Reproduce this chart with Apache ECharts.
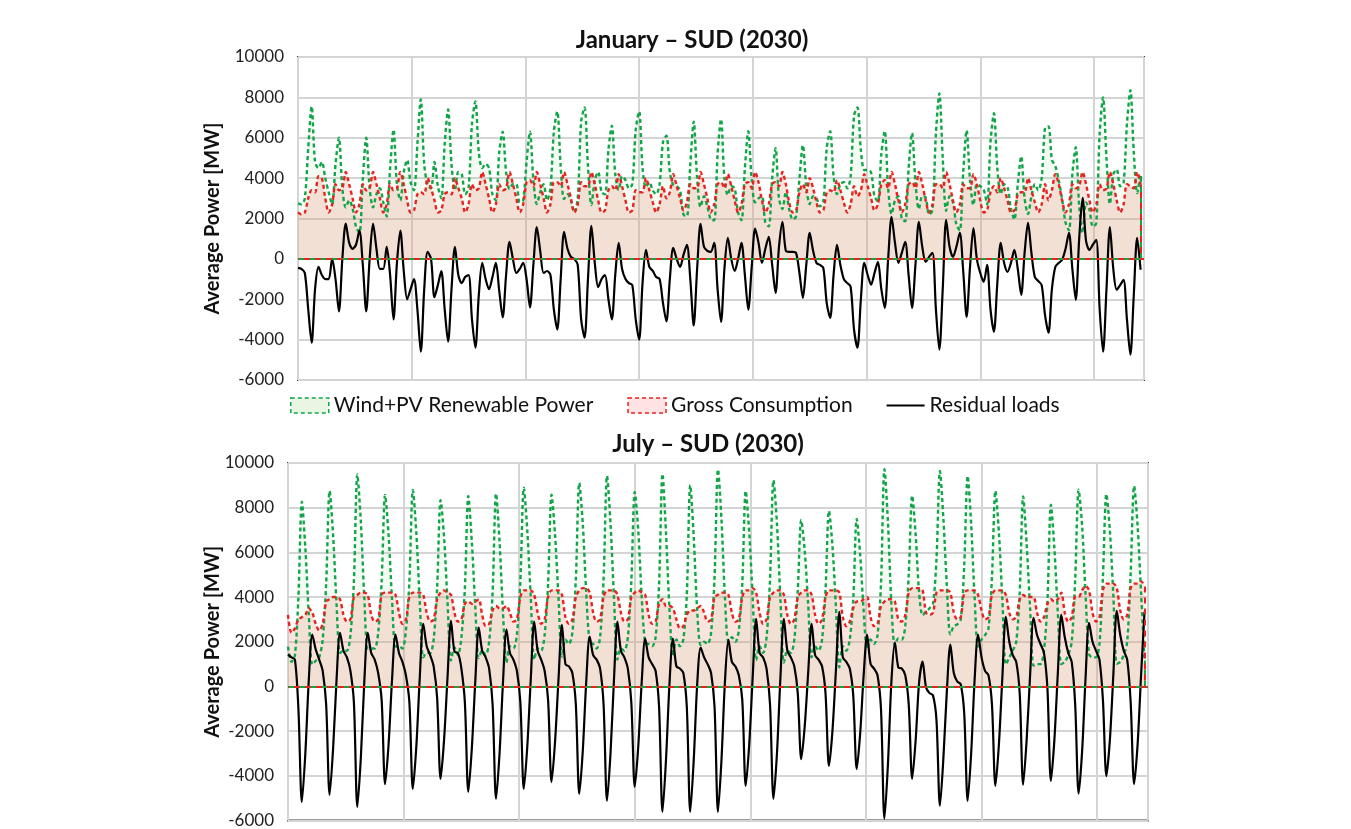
<!DOCTYPE html>
<html lang="en">
	<head>
		<meta charset="utf-8" />
		<title>SUD 2030 residual loads</title>
		<style>
			html, body { margin: 0; padding: 0; background: #fff; }
		</style>
	</head>
	<body>
		<div id="main" style="width: 1351px; height: 829px;"></div>

		<script src="https://cdn.jsdelivr.net/npm/echarts@6/dist/echarts.min.js"></script>
		<script type="text/javascript">
			// one value every 3 hours: 00, 03, 06, 09, 12, 15, 18, 21 (one line per day)
			const stepHours = 3;
			const yTicks = [-6000, -4000, -2000, 0, 2000, 4000, 6000, 8000, 10000];
			const legendNames = ['Wind+PV Renewable Power', 'Gross Consumption', 'Residual loads'];
			const titles = ['January – SUD (2030)', 'July – SUD (2030)'];

			const janRenewable = [
				2750, 2700, 3000, 5500, 7550, 4800, 4500, 4800,
				4000, 3300, 2700, 4700, 6000, 3500, 2550, 2900,
				2500, 1600, 1300, 4000, 6000, 3500, 2550, 3200,
				3500, 2800, 2100, 4500, 6400, 3700, 2900, 4300,
				4900, 3800, 3400, 5700, 7900, 4700, 3650, 3500,
				4800, 3600, 3000, 5700, 7400, 4700, 3400, 4300,
				4200, 3200, 3500, 6700, 7800, 5300, 4500, 4700,
				4500, 3200, 2900, 5300, 6300, 4300, 3460, 3700,
				3700, 2800, 2900, 4800, 6300, 3900, 2720, 3300,
				3700, 2900, 3500, 6300, 7300, 4600, 2960, 3200,
				2900, 2300, 3000, 6800, 7500, 4600, 2670, 3900,
				4300, 3300, 3200, 5400, 6600, 4200, 3410, 4100,
				3900, 3500, 3700, 6400, 7300, 4500, 3550, 3800,
				3400, 3200, 3700, 5800, 6100, 4300, 3660, 3600,
				3400, 2200, 2110, 4700, 6800, 4000, 2570, 3100,
				2600, 1950, 1910, 5200, 6920, 4000, 3160, 3600,
				3500, 2300, 1910, 4500, 6320, 3900, 2800, 3000,
				3100, 1800, 1610, 4000, 5480, 3000, 2470, 3300,
				2450, 1950, 2100, 4000, 5630, 3600, 2710, 3100,
				3000, 2600, 2850, 5500, 6320, 4100, 3210, 3700,
				3800, 3500, 4080, 7100, 7500, 5400, 4400, 4400,
				4280, 3100, 2850, 5200, 6330, 3500, 2220, 2900,
				3100, 2000, 1860, 4500, 6230, 3800, 2470, 3100,
				3050, 2200, 2400, 6200, 8200, 5000, 2370, 3100,
				2800, 1700, 1410, 4300, 6370, 3900, 2670, 3700,
				3600, 3440, 2700, 5800, 7210, 4500, 3210, 3700,
				3540, 2500, 1950, 3700, 5080, 3000, 2220, 3100,
				3700, 3400, 4000, 6500, 6560, 4900, 4600, 3900,
				2950, 1800, 1410, 4200, 5530, 2600, 1280, 2800,
				2450, 1600, 1760, 6200, 8000, 5000, 2720, 4200,
				4430, 3600, 3740, 6700, 8350, 5300, 3260, 4240
			];

			const janConsumption = [
				2300, 2200, 2300, 3000, 3400, 3300, 4100, 4000,
				3000, 2300, 2700, 3700, 3400, 3500, 4300, 3700,
				3000, 2300, 2700, 3700, 3400, 3500, 4300, 3700,
				3000, 2300, 2700, 3700, 3400, 3500, 4300, 3700,
				2900, 2300, 2400, 3200, 3300, 3200, 4000, 3500,
				2900, 2300, 2400, 3200, 3300, 3200, 4000, 3500,
				3000, 2300, 2700, 3700, 3400, 3500, 4300, 3700,
				3000, 2300, 2700, 3700, 3400, 3500, 4300, 3700,
				3000, 2300, 2700, 3800, 3900, 3600, 4300, 3700,
				3000, 2300, 2700, 3800, 3800, 3600, 4300, 3700,
				3000, 2300, 2700, 3800, 3600, 3600, 4300, 3700,
				2900, 2300, 2400, 3400, 3600, 3400, 4200, 3600,
				2900, 2300, 2400, 3400, 3300, 3300, 4000, 3400,
				2800, 2300, 2700, 3600, 3000, 3300, 4200, 3600,
				3000, 2400, 2800, 3700, 3500, 3500, 4300, 3700,
				3000, 2300, 2700, 3700, 3800, 3500, 4200, 3600,
				2900, 2300, 2700, 3700, 3800, 3500, 4300, 3800,
				2900, 2300, 2700, 3700, 3800, 3600, 4300, 3700,
				2800, 2300, 2400, 3300, 3700, 3300, 4000, 3500,
				2800, 2300, 2400, 3300, 3400, 3300, 3900, 3400,
				2800, 2300, 2700, 3600, 3100, 3400, 4200, 3600,
				3000, 2400, 2700, 3700, 3900, 3500, 4300, 3700,
				2900, 2300, 2700, 3700, 3800, 3500, 4300, 3700,
				2900, 2300, 2700, 3700, 3700, 3500, 4300, 3700,
				2900, 2300, 2700, 3700, 3500, 3500, 4200, 3700,
				2900, 2300, 2400, 3300, 3600, 3300, 4000, 3500,
				2900, 2300, 2400, 3200, 3300, 3300, 4000, 3400,
				2800, 2300, 2700, 3700, 2900, 3400, 4200, 3700,
				2900, 2300, 2700, 3700, 3500, 3600, 4300, 3700,
				2900, 2300, 2700, 3700, 3400, 3500, 4300, 3700,
				2900, 2300, 2700, 3700, 3600, 3500, 4300, 3700
			];

			const janResidual = [
				-450, -500, -700, -2500, -4150, -1500, -400, -800,
				-1000, -1000, 0, -1000, -2600, 0, 1750, 800,
				500, 700, 1400, -300, -2600, 0, 1750, 500,
				-500, -500, 600, -800, -3000, -200, 1400, -600,
				-2000, -1500, -1000, -2500, -4600, -1500, 350, 0,
				-1900, -1300, -600, -2500, -4100, -1500, 600, -800,
				-1200, -900, -800, -3000, -4400, -1800, -200, -1000,
				-1500, -900, -200, -1600, -2900, -800, 840, 0,
				-700, -500, -200, -1000, -2400, -300, 1580, 400,
				-700, -600, -800, -2500, -3500, -1000, 1340, 500,
				100, 0, -300, -3000, -3900, -1000, 1630, -200,
				-1400, -1000, -800, -2000, -3000, -800, 790, -500,
				-1000, -1200, -1300, -3000, -4000, -1200, 450, -400,
				-600, -900, -1000, -2200, -3100, -1000, 540, 0,
				-400, 200, 690, -1000, -3300, -500, 1730, 600,
				400, 350, 790, -1500, -3120, -500, 1040, 0,
				-600, 0, 790, -800, -2520, -400, 1500, 800,
				-200, 500, 1090, -300, -1680, 600, 1830, 400,
				350, 350, 300, -700, -1930, -300, 1290, 400,
				-200, -300, -450, -2200, -2920, -800, 690, -300,
				-1000, -1200, -1380, -3500, -4400, -2000, -200, -800,
				-1280, -700, -150, -1500, -2430, 0, 2080, 800,
				-200, 300, 840, -800, -2430, -300, 1830, 600,
				-150, 100, 300, -2500, -4500, -1500, 1930, 600,
				100, 600, 1290, -600, -2870, -400, 1530, 0,
				-700, -1140, -300, -2500, -3610, -1200, 790, -200,
				-640, -200, 450, -500, -1780, 300, 1780, 300,
				-900, -1100, -1300, -2800, -3660, -1500, -400, -200,
				-50, 500, 1290, -500, -2030, 1000, 3020, 900,
				450, 700, 940, -2500, -4600, -1500, 1580, -500,
				-1530, -1300, -1040, -3000, -4750, -1800, 1040, -540
			];

			const julRenewable = [
				1780, 1100, 1400, 4000, 8270, 6200, 3200, 980,
				1150, 1300, 2100, 4600, 8750, 6800, 3700, 1500,
				1600, 1600, 2300, 4700, 9490, 7400, 4000, 1700,
				1700, 1700, 2400, 4700, 8570, 6800, 3900, 1780,
				1800, 1700, 2500, 4700, 8790, 6900, 3800, 1300,
				1500, 1500, 2100, 4400, 8340, 6700, 3800, 1160,
				1740, 1400, 2200, 4400, 8520, 6500, 3600, 1270,
				1600, 1400, 2000, 4200, 8630, 6500, 3300, 1060,
				1800, 1700, 2300, 4700, 8890, 7000, 4000, 1200,
				1700, 1600, 2300, 4600, 8580, 6800, 4000, 1340,
				2100, 1900, 2400, 4800, 9110, 7300, 4200, 1970,
				1900, 1700, 2200, 4800, 9420, 7300, 4000, 1200,
				1700, 1600, 2200, 4700, 8700, 7000, 4000, 1960,
				1900, 1800, 2200, 4600, 9510, 6900, 3500, 1360,
				2100, 1800, 2100, 4100, 9010, 6700, 3400, 1860,
				2000, 1900, 2400, 4900, 9710, 7500, 4000, 2010,
				2200, 2000, 2500, 4600, 8750, 6900, 4000, 1170,
				1800, 1500, 2200, 4800, 9230, 7300, 3900, 1070,
				1600, 1500, 2100, 4300, 7450, 6100, 3700, 1300,
				1800, 1600, 2100, 4300, 7860, 6300, 3600, 860,
				1800, 1600, 2100, 3900, 7500, 5900, 3400, 1680,
				2100, 1900, 2300, 4600, 9720, 7400, 3700, 1840,
				2150, 2100, 2700, 5000, 8540, 6800, 4200, 3190,
				3350, 3500, 3700, 5700, 9640, 7500, 4500, 2330,
				2700, 2780, 3000, 5400, 9420, 7300, 4000, 1780,
				2100, 2300, 2600, 4900, 8750, 6900, 3900, 980,
				1300, 1600, 2000, 4200, 8500, 6400, 3500, 930,
				1000, 1000, 1600, 3800, 8130, 6200, 3300, 1000,
				1100, 1400, 2000, 4800, 8800, 7200, 4100, 1450,
				1300, 1300, 1900, 4900, 8610, 7000, 4100, 1020,
				1100, 1400, 2000, 5100, 8970, 7200, 4200, 1160
			];

			const julConsumption = [
				3200, 2400, 2600, 3000, 3100, 3200, 3500, 3300,
				2800, 2500, 2800, 3800, 3900, 4000, 4000, 3900,
				3200, 2900, 3000, 4000, 4100, 4200, 4200, 4100,
				3200, 2900, 3000, 4100, 4200, 4200, 4200, 4100,
				3300, 2800, 3000, 4000, 4200, 4200, 4200, 4100,
				3300, 2900, 3000, 3900, 4200, 4300, 4200, 4100,
				3300, 2900, 3000, 3700, 3800, 3700, 3800, 3900,
				3200, 2700, 2800, 3400, 3600, 3500, 3500, 3600,
				3300, 2900, 3000, 4000, 4300, 4300, 4300, 4100,
				3300, 2800, 3000, 4000, 4300, 4300, 4300, 4100,
				3100, 2800, 3000, 4000, 4300, 4400, 4400, 4200,
				3300, 2900, 3000, 4000, 4300, 4300, 4300, 4100,
				3300, 2900, 3000, 4000, 4200, 4300, 4200, 4100,
				3200, 2800, 2900, 3700, 3900, 3600, 3600, 3500,
				3000, 2600, 2700, 3200, 3400, 3400, 3500, 3600,
				3300, 2900, 3000, 4000, 4100, 4200, 4200, 4100,
				3300, 2900, 3000, 4000, 4300, 4300, 4400, 4200,
				3300, 2800, 3000, 4000, 4200, 4300, 4300, 4100,
				3200, 2800, 3000, 4000, 4200, 4300, 4300, 4100,
				3200, 2800, 3000, 4000, 4300, 4300, 4300, 4200,
				3100, 2700, 2900, 3500, 3800, 3800, 3900, 4000,
				3100, 2700, 2800, 3600, 3800, 3900, 3900, 3800,
				3000, 2900, 3200, 4200, 4400, 4400, 4400, 4300,
				3300, 3200, 3300, 4200, 4300, 4300, 4300, 4200,
				3300, 3000, 3100, 4200, 4300, 4300, 4300, 4100,
				3400, 3000, 3100, 4100, 4300, 4300, 4300, 4100,
				3300, 3000, 3100, 3900, 4100, 4000, 4000, 4000,
				3300, 2900, 3100, 3700, 3900, 3800, 3900, 4200,
				3300, 2900, 3100, 4000, 4000, 4300, 4500, 4300,
				3300, 2900, 3100, 4300, 4600, 4600, 4600, 4400,
				3400, 3000, 3200, 4400, 4600, 4600, 4700, 4500
			];

			const julResidual = [
				1420, 1300, 1200, -1000, -5170, -3000, 300, 2320,
				1650, 1200, 700, -800, -4850, -2800, 300, 2400,
				1600, 1300, 700, -700, -5390, -3200, 200, 2400,
				1500, 1200, 600, -600, -4370, -2600, 300, 2320,
				1500, 1100, 500, -700, -4590, -2700, 400, 2800,
				1800, 1400, 900, -500, -4140, -2400, 400, 2940,
				1560, 1500, 800, -700, -4720, -2800, 200, 2630,
				1600, 1300, 800, -800, -5030, -3000, 200, 2540,
				1500, 1200, 700, -700, -4590, -2700, 300, 2900,
				1600, 1200, 700, -600, -4280, -2500, 300, 2760,
				1000, 900, 600, -800, -4810, -2900, 200, 2230,
				1400, 1200, 800, -800, -5120, -3000, 300, 2900,
				1600, 1300, 800, -700, -4500, -2700, 200, 2140,
				1300, 1000, 700, -900, -5610, -3300, 100, 2140,
				900, 800, 600, -900, -5610, -3300, 100, 1740,
				1300, 1000, 600, -900, -5610, -3300, 200, 2090,
				1100, 900, 500, -600, -4450, -2600, 400, 3030,
				1500, 1300, 800, -800, -5030, -3000, 400, 3030,
				1600, 1300, 900, -300, -3250, -1800, 600, 2800,
				1400, 1200, 900, -300, -3560, -2000, 700, 3340,
				1300, 1100, 800, -400, -3700, -2100, 500, 2320,
				1000, 800, 500, -1000, -5920, -3500, 200, 1960,
				850, 800, 500, -800, -4140, -2400, 200, 1110,
				-50, -300, -400, -1500, -5340, -3200, -200, 1870,
				600, 220, 100, -1200, -5120, -3000, 300, 2320,
				1300, 700, 500, -800, -4450, -2600, 400, 3120,
				2000, 1400, 1100, -300, -4400, -2400, 500, 3070,
				2300, 1900, 1500, -100, -4230, -2400, 600, 3200,
				2200, 1500, 1100, -800, -4800, -2900, 400, 2850,
				2000, 1600, 1200, -600, -4010, -2400, 500, 3380,
				2300, 1600, 1200, -700, -4370, -2600, 500, 3340
			];

			const FONT = 'Lato, "Open Sans", sans-serif';
			const GREEN = '#10a548';
			const RED = '#e8231f';
			const GREEN_FILL = 'rgba(170, 225, 150, 0.18)';
			const RED_FILL = 'rgba(240, 140, 115, 0.34)';

			// [hour, value] pairs for a value x axis
			function toPoints(values) {
				return values.map((v, i) => [i * stepHours, v]);
			}

			function makeGrid(top, left, right, height) {
				return { top, left, right, height, show: true, borderColor: '#3a3a3a', borderWidth: 2, backgroundColor: 'transparent' };
			}

			function makeX(idx) {
				return {
					type: 'value', gridIndex: idx, min: 0, max: 744, interval: 100,
					axisLine: { show: false }, axisTick: { show: false }, axisLabel: { show: false },
					splitLine: { show: true, lineStyle: { color: '#d4d4d4', width: 2 } }
				};
			}

			function makeY(idx, nameGap) {
				return {
					type: 'value', gridIndex: idx, min: yTicks[0], max: yTicks[yTicks.length - 1], interval: 2000,
					name: 'Average Power [MW]', nameLocation: 'middle', nameGap, nameMoveOverlap: false,
					nameTextStyle: { fontFamily: FONT, fontWeight: 'bold', fontSize: 20, color: '#111' },
					axisLine: { show: false }, axisTick: { show: false },
					axisLabel: { fontFamily: FONT, fontSize: 17, color: '#222', margin: 14, formatter: (v) => String(v) },
					splitLine: { show: true, lineStyle: { color: '#d4d4d4', width: 2 } }
				};
			}

			function areaSeries(name, idx, values, color, fill, dashOffset) {
				const pts = toPoints(values);
				const last = pts[pts.length - 1];
				return {
					name, type: 'line', xAxisIndex: idx, yAxisIndex: idx, data: pts,
					symbol: 'none', smooth: 0.3,
					lineStyle: { color, width: 2.4, type: [4, 3] },
					itemStyle: { color },
					areaStyle: { color: fill, origin: 0 },
					markLine: {
						silent: true, symbol: 'none', label: { show: false },
						lineStyle: { color, width: 2, type: [6, 5], dashOffset },
						data: [
							{ yAxis: 0 },
							[{ coord: [last[0], 0] }, { coord: last }]
						]
					}
				};
			}

			function residualSeries(name, idx, values) {
				return {
					name, type: 'line', xAxisIndex: idx, yAxisIndex: idx, data: toPoints(values),
					symbol: 'none', smooth: 0.3,
					lineStyle: { color: '#000', width: 2.2 },
					itemStyle: { color: '#000' }
				};
			}

			const chart = echarts.init(document.getElementById('main'));

			const option = {
				backgroundColor: '#fff',
				animation: false,
				title: [
					{ text: titles[0], left: 687, top: 23, textAlign: 'center', textStyle: { fontFamily: FONT, fontWeight: 'bold', fontSize: 24, color: '#111' } },
					{ text: titles[1], left: 703, top: 427, textAlign: 'center', textStyle: { fontFamily: FONT, fontWeight: 'bold', fontSize: 24, color: '#111' } }
				],
				legend: {
					top: 390, left: 285, itemWidth: 38, itemHeight: 15, itemGap: 34,
					textStyle: { fontFamily: FONT, fontSize: 21, color: '#111' },
					data: [
						{ name: legendNames[0], icon: 'rect', itemStyle: { color: '#e9f6e4', borderColor: GREEN, borderWidth: 1.5, borderType: [4, 3] } },
						{ name: legendNames[1], icon: 'rect', itemStyle: { color: '#fde3e3', borderColor: RED, borderWidth: 1.5, borderType: [4, 3] } },
						{ name: legendNames[2], icon: 'path://M0,0L40,0L40,2L0,2Z', itemStyle: { color: '#000', borderWidth: 0 } }
					]
				},
				grid: [makeGrid(57, 298, 207, 323), makeGrid(463, 288, 203, 359)],
				xAxis: [makeX(0), makeX(1)],
				yAxis: [makeY(0, 75), makeY(1, 65)],
				series: [
					areaSeries(legendNames[0], 0, janRenewable, GREEN, GREEN_FILL, 0),
					areaSeries(legendNames[1], 0, janConsumption, RED, RED_FILL, 5),
					residualSeries(legendNames[2], 0, janResidual),
					areaSeries(legendNames[0], 1, julRenewable, GREEN, GREEN_FILL, 0),
					areaSeries(legendNames[1], 1, julConsumption, RED, RED_FILL, 5),
					residualSeries(legendNames[2], 1, julResidual)
				]
			};

			chart.setOption(option);
		</script>
	</body>
</html>
